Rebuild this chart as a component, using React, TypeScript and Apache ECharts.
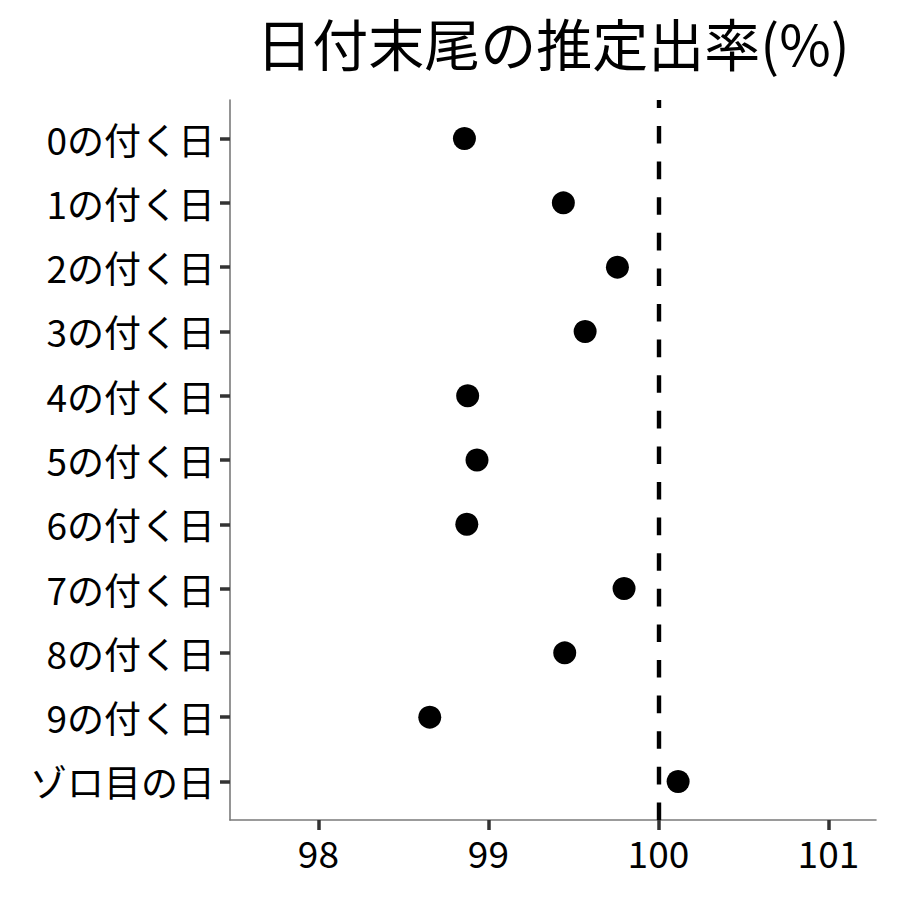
import React, { useEffect, useRef } from "react";
import * as echarts from "echarts";

const titleText = "日付末尾の推定出率(%)";
const categories = [
  "0の付く日",
  "1の付く日",
  "2の付く日",
  "3の付く日",
  "4の付く日",
  "5の付く日",
  "6の付く日",
  "7の付く日",
  "8の付く日",
  "9の付く日",
  "ゾロ目の日",
];
const rates = [98.859, 99.441, 99.759, 99.569, 98.878, 98.933, 98.873, 99.798, 99.449, 98.655, 100.116];
const xTicks = [98, 99, 100, 101];
const referenceValue = 100;

const FONT = '"Noto Sans CJK JP", "Noto Sans", sans-serif';

export default function App() {
  const ref = useRef<HTMLDivElement>(null);
  useEffect(() => {
    if (!ref.current) return;
    const chart = echarts.init(ref.current, undefined, { renderer: "svg" });
    const yIdx = categories.map((_, i) => i);
    chart.setOption({
      animation: false,
      backgroundColor: "#ffffff",
      textStyle: { fontFamily: FONT },
      graphic: [
        {
          type: "text",
          x: 553,
          y: 41,
          style: {
            text: titleText,
            fontSize: 56,
            fontFamily: FONT,
            fill: "#000000",
            align: "center",
            verticalAlign: "middle",
          },
        },
      ],
      grid: { left: 230, right: 24, top: 100, bottom: 80, containLabel: false },
      xAxis: {
        type: "value",
        min: 97.48,
        max: 101.28,
        splitLine: { show: false },
        axisLine: { show: true, onZero: false, lineStyle: { color: "#7a7a7a", width: 1.6 } },
        axisTick: {
          show: true,
          length: 10,
          customValues: xTicks,
          lineStyle: { color: "#333333", width: 3.5 },
        },
        axisLabel: {
          customValues: xTicks,
          fontSize: 37,
          fontFamily: FONT,
          color: "#000000",
          margin: 13,
          formatter: (v: number) => String(v),
        },
      },
      yAxis: {
        type: "value",
        inverse: true,
        min: -0.6,
        max: 10.6,
        splitLine: { show: false },
        axisLine: { show: true, onZero: false, lineStyle: { color: "#7a7a7a", width: 1.6 } },
        axisTick: {
          show: true,
          length: 10,
          customValues: yIdx,
          lineStyle: { color: "#333333", width: 3.5 },
        },
        axisLabel: {
          customValues: yIdx,
          fontSize: 37,
          fontFamily: FONT,
          color: "#000000",
          margin: 15,
          formatter: (v: number) => categories[Math.round(v)] ?? "",
        },
      },
      series: [
        {
          type: "scatter",
          symbol: "circle",
          symbolSize: 23,
          itemStyle: { color: "#000000", opacity: 1 },
          data: rates.map((r, i) => [r, i]),
          z: 3,
          markLine: {
            silent: true,
            symbol: "none",
            label: { show: false },
            lineStyle: { color: "#000000", width: 4.4, type: [17.6, 18], cap: "butt" },
            data: [[{ coord: [referenceValue, 10.6] }, { coord: [referenceValue, -0.6] }]],
            z: 2,
          },
        },
      ],
    });
    return () => chart.dispose();
  }, []);
  return <div ref={ref} style={{ width: 900, height: 900, position: "absolute", left: 0, top: 0 }} />;
}
